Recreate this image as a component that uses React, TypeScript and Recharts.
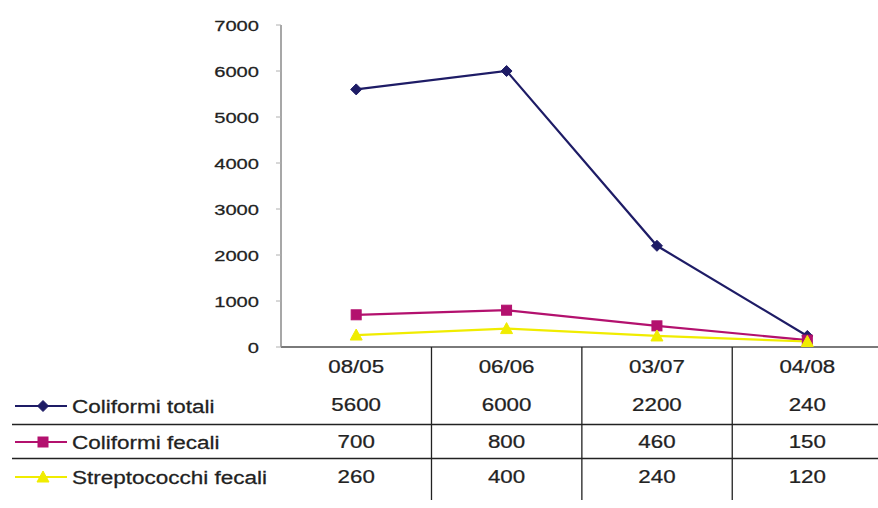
import React from 'react';
import { LineChart, Line, XAxis, YAxis } from 'recharts';

const dates = ['08/05', '06/06', '03/07', '04/08'];
const coliformiTotali = [5600, 6000, 2200, 240];
const coliformiFecali = [700, 800, 460, 150];
const streptococchiFecali = [260, 400, 240, 120];
const yTicks = [0, 1000, 2000, 3000, 4000, 5000, 6000, 7000];

const seriesInfo = [
  { key: 'totali', name: 'Coliformi totali', color: '#1e1c66', shape: 'diamond', values: coliformiTotali },
  { key: 'fecali', name: 'Coliformi fecali', color: '#b3116e', shape: 'square', values: coliformiFecali },
  { key: 'strepto', name: 'Streptococchi fecali', color: '#f0ec00', shape: 'triangle', values: streptococchiFecali },
];

const data = dates.map((d, i) => ({
  idx: i,
  date: d,
  totali: coliformiTotali[i],
  fecali: coliformiFecali[i],
  strepto: streptococchiFecali[i],
}));

const FONT = '"Liberation Sans", Arial, sans-serif';
const TEXT = '#222';

const Marker = ({ cx, cy, shape, color }: { cx: number; cy: number; shape: string; color: string }) => {
  if (shape === 'diamond') {
    return <path d={`M${cx},${cy - 5.5}L${cx + 5.5},${cy}L${cx},${cy + 5.5}L${cx - 5.5},${cy}Z`} fill={color} stroke={color} />;
  }
  if (shape === 'square') {
    return <rect x={cx - 5} y={cy - 5} width={10} height={10} fill={color} stroke={color} />;
  }
  return <path d={`M${cx},${cy - 6}L${cx + 6},${cy + 5}L${cx - 6},${cy + 5}Z`} fill={color} stroke={color} />;
};

const StretchText = ({ x, y, anchor, size, sx, children }: any) => (
  <text
    transform={`translate(${x},${y}) scale(${sx},1)`}
    textAnchor={anchor}
    fontFamily={FONT}
    fontSize={size}
    fill={TEXT}
    stroke={TEXT}
    strokeWidth={0.25}
  >
    {children}
  </text>
);

// one column of the data table under each category
const TableTick = (props: any) => {
  const { x, y, payload } = props;
  const i = payload.value as number;
  if (i < 0 || i > 3) return null;
  return (
    <g>
      <StretchText x={x} y={y + 26} anchor="middle" size={18} sx={1.24}>
        {dates[i]}
      </StretchText>
      {seriesInfo.map((s, r) => (
        <StretchText key={s.key} x={x} y={y + [64, 101, 136][r]} anchor="middle" size={18} sx={1.24}>
          {s.values[i]}
        </StretchText>
      ))}
      {i < 3 && <line x1={x + 75.3} y1={y} x2={x + 75.3} y2={y + 153} stroke="#222" strokeWidth={1.3} />}
    </g>
  );
};

const YTick = (props: any) => {
  const { x, y, payload } = props;
  return (
    <StretchText x={x} y={y + 5.5} anchor="end" size={15.5} sx={1.3}>
      {payload.value}
    </StretchText>
  );
};

const legendRows = [406, 442, 477];

export default function App() {
  return (
    <div style={{ position: 'absolute', left: 0, top: 0, width: 878, height: 508, background: '#fff' }}>
      <LineChart width={878} height={508} data={data} margin={{ top: 25, right: 0, left: 0, bottom: 0 }}>
        <XAxis
          dataKey="idx"
          type="number"
          domain={[-0.5, 3.47]}
          allowDataOverflow
          ticks={[0, 1, 2, 3]}
          tick={<TableTick />}
          tickLine={false}
          tickSize={0}
          tickMargin={0}
          height={161}
          axisLine={{ stroke: '#7a7a7a', strokeWidth: 2 }}
        />
        <YAxis
          domain={[0, 7000]}
          ticks={yTicks}
          width={281}
          tickSize={5}
          tickMargin={17}
          tick={<YTick />}
          tickLine={{ stroke: '#b0b0b0' }}
          axisLine={{ stroke: '#8a8a8a', strokeWidth: 1.5 }}
        />
        {seriesInfo.map((s) => (
          <Line
            key={s.key}
            type="linear"
            dataKey={s.key}
            name={s.name}
            stroke={s.color}
            strokeWidth={2.2}
            isAnimationActive={false}
            dot={(p: any) => <Marker key={`${s.key}-${p.index}`} cx={p.cx} cy={p.cy} shape={s.shape} color={s.color} />}
            activeDot={false}
          />
        ))}
      </LineChart>
      <svg width={878} height={508} style={{ position: 'absolute', left: 0, top: 0, pointerEvents: 'none' }}>
        <line x1={12} y1={424.5} x2={878} y2={424.5} stroke="#222" strokeWidth={1.3} />
        <line x1={12} y1={458.5} x2={878} y2={458.5} stroke="#222" strokeWidth={1.3} />
        {seriesInfo.map((s, r) => (
          <g key={s.key}>
            <line x1={15} y1={legendRows[r]} x2={67} y2={legendRows[r]} stroke={s.color} strokeWidth={2.2} />
            <Marker cx={43} cy={legendRows[r]} shape={s.shape} color={s.color} />
            <StretchText x={72} y={legendRows[r] + 6.5} anchor="start" size={18} sx={1.25}>
              {s.name}
            </StretchText>
          </g>
        ))}
      </svg>
    </div>
  );
}
